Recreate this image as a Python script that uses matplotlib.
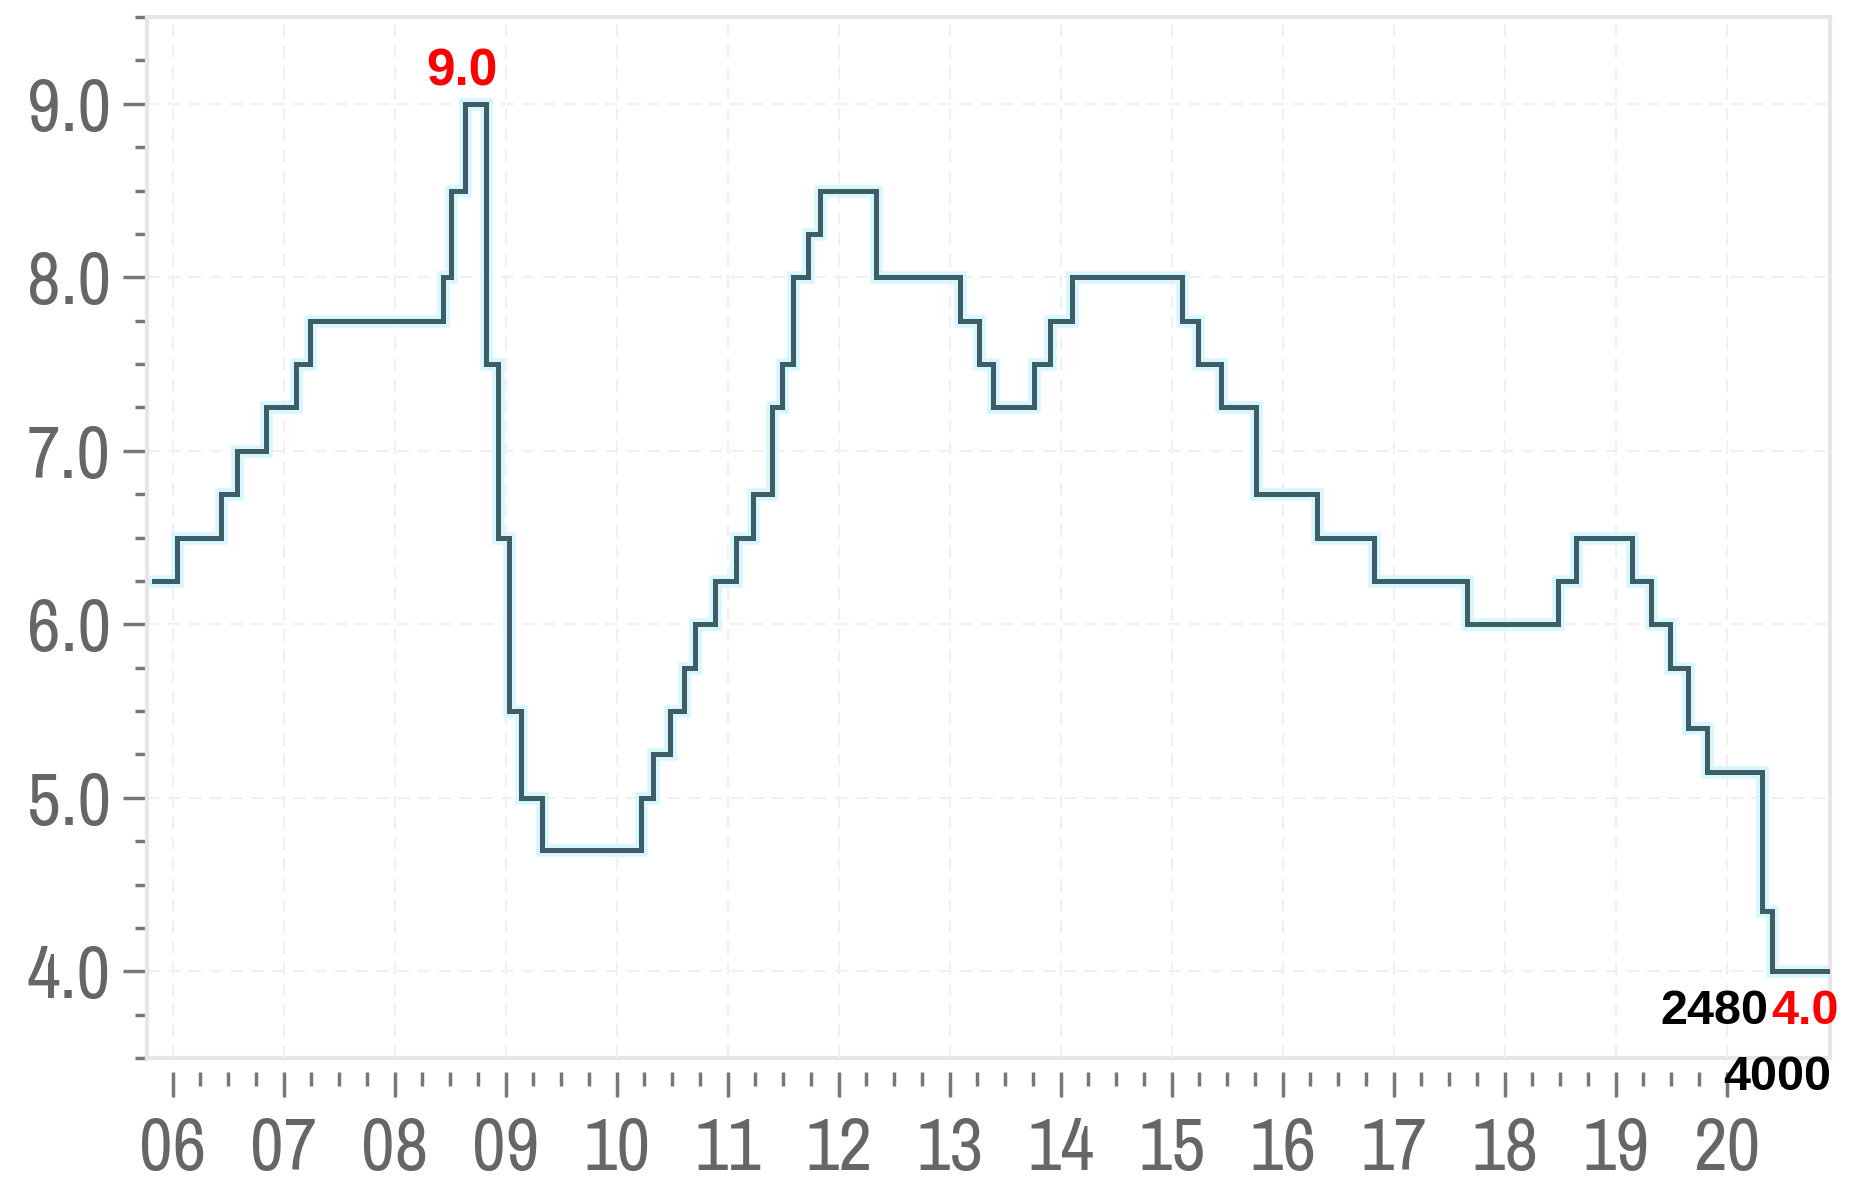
import numpy as np
import matplotlib
matplotlib.use("Agg")
import matplotlib.pyplot as plt
from matplotlib import font_manager
from matplotlib.ticker import FixedLocator, MultipleLocator

# step dates (decimal years) and the rate that starts at each date
step_starts = [2005.83, 2006.04, 2006.44, 2006.58, 2006.84, 2007.11, 2007.24,
               2008.44, 2008.51, 2008.63, 2008.82, 2008.93, 2009.03, 2009.14, 2009.33,
               2010.22, 2010.33, 2010.48, 2010.61, 2010.71, 2010.89, 2011.08, 2011.23,
               2011.40, 2011.49, 2011.59, 2011.72, 2011.83,
               2012.34, 2013.09, 2013.26, 2013.39, 2013.76, 2013.90, 2014.10,
               2015.09, 2015.24, 2015.44, 2015.76, 2016.31, 2016.82, 2017.66,
               2018.48, 2018.64, 2019.15, 2019.32, 2019.49, 2019.65, 2019.82, 2020.32, 2020.41]
rates = [6.25, 6.5, 6.75, 7.0, 7.25, 7.5, 7.75,
         8.0, 8.5, 9.0, 7.5, 6.5, 5.5, 5.0, 4.7,
         5.0, 5.25, 5.5, 5.75, 6.0, 6.25, 6.5, 6.75,
         7.25, 7.5, 8.0, 8.25, 8.5,
         8.0, 7.75, 7.5, 7.25, 7.5, 7.75, 8.0,
         7.75, 7.5, 7.25, 6.75, 6.5, 6.25, 6.0,
         6.25, 6.5, 6.25, 6.0, 5.75, 5.4, 5.15, 4.35, 4.0]
end_date = 2020.93

years = list(range(2006, 2021))
year_labels = ["%02d" % (y % 100) for y in years]
y_major = [4.0, 5.0, 6.0, 7.0, 8.0, 9.0]

last_left_label = "2480"
last_below_label = "4000"

# pick a narrow face for the axis numbers if one is installed
names = sorted({f.name for f in font_manager.fontManager.ttflist})
narrow_fam = None
for n in names:
    if "Narrow" in n or "Condensed" in n:
        narrow_fam = n
        break
tick_font = narrow_fam if narrow_fam else "Liberation Sans"
tick_size = 53 if narrow_fam else 50

plt.rcParams["font.family"] = [tick_font, "DejaVu Sans"]
bold = ["Liberation Sans", "DejaVu Sans"]

fig = plt.figure(figsize=(18.58, 11.83), dpi=100)
ax = fig.add_axes([147 / 1858, 1 - 1058 / 1183, (1830 - 147) / 1858, (1058 - 17) / 1183])

xs = step_starts + [end_date]
ys = rates + [rates[-1]]

# pale cyan halo, then the line
ax.step(xs, ys, where="post", color="#d6f7ff", lw=9, solid_joinstyle="miter", zorder=2)
ax.step(xs, ys, where="post", color="#3e5d64", lw=3.6, solid_joinstyle="miter", zorder=3)

ax.set_xlim(2005.77, end_date)
ax.set_ylim(3.5, 9.5)

# ticks
ax.xaxis.set_major_locator(FixedLocator(years))
ax.xaxis.set_minor_locator(FixedLocator([y + q for y in range(2005, 2021) for q in (0.25, 0.5, 0.75)]))
ax.set_xticks(years, year_labels)
ax.yaxis.set_major_locator(FixedLocator(y_major))
ax.yaxis.set_minor_locator(MultipleLocator(0.25))
ax.set_yticks(y_major, ["%.1f" % v for v in y_major])

ax.tick_params(axis="both", which="major", labelsize=tick_size, labelcolor="#666666")
ax.tick_params(axis="x", which="major", length=18, width=2.5, color="#777777", pad=14)
ax.tick_params(axis="x", which="minor", length=10, width=2.5, color="#777777")
ax.tick_params(axis="y", which="major", length=17, width=2.5, color="#777777", pad=9)
ax.tick_params(axis="y", which="minor", length=9, width=2.5, color="#777777")

# frame: light grey box, bottom ticks pushed a little below it
for side in ["top", "right", "left", "bottom"]:
    ax.spines[side].set_color("#e6e6e6")
    ax.spines[side].set_linewidth(3)
ax.spines["bottom"].set_position(("outward", 10))
ax.spines["bottom"].set_visible(False)
ax.axhline(3.5, color="#e6e6e6", lw=3, zorder=1, clip_on=False)

# faint dashed grid
ax.grid(True, which="major", color="#f0f0f0", lw=1.5, linestyle=(0, (6, 4)), zorder=0)

# labels
i_peak = int(np.argmax(rates))
peak_x = (step_starts[i_peak] + step_starts[i_peak + 1]) / 2
ax.annotate("%.1f" % rates[i_peak], (peak_x, rates[i_peak]), xytext=(-13, 32),
            textcoords="offset pixels", ha="center", va="center",
            color="red", fontsize=37, fontweight="bold", family=bold, annotation_clip=False)
ax.annotate("%.1f" % rates[-1], (end_date, rates[-1]), xytext=(9, -40),
            textcoords="offset pixels", ha="right", va="center",
            color="red", fontsize=35, fontweight="bold", family=bold, annotation_clip=False)
ax.annotate(last_left_label, (end_date, rates[-1]), xytext=(-62, -40),
            textcoords="offset pixels", ha="right", va="center",
            color="black", fontsize=35, fontweight="bold", family=bold, annotation_clip=False)
ax.annotate(last_below_label, (end_date, rates[-1]), xytext=(1, -106),
            textcoords="offset pixels", ha="right", va="center",
            color="black", fontsize=35, fontweight="bold", family=bold, annotation_clip=False)

fig.savefig("out.png", dpi=100)
